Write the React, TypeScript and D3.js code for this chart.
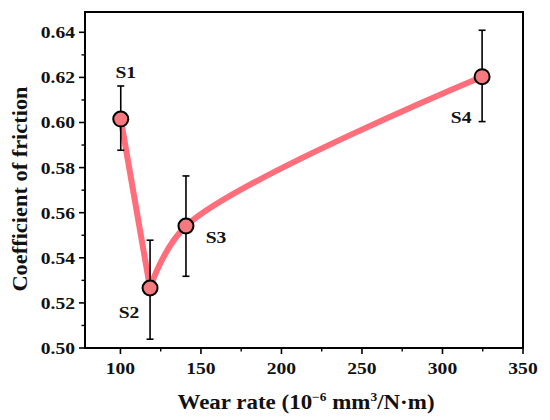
import React from "react";
import * as d3 from "d3";

const samples = ["S1", "S2", "S3", "S4"];
const wearRate = [100.2, 118.4, 140.7, 324.6];
const cof = [0.6015, 0.5266, 0.5541, 0.6203];
const errLow = [0.5877, 0.5039, 0.5318, 0.6004];
const errHigh = [0.6162, 0.5478, 0.5763, 0.6409];
const xTicks = [100, 150, 200, 250, 300, 350];
const xMinor = [125, 175, 225, 275, 325];
const yTicks = [0.5, 0.52, 0.54, 0.56, 0.58, 0.6, 0.62, 0.64];
const yMinor = [0.51, 0.53, 0.55, 0.57, 0.59, 0.61, 0.63];
// label offsets (dx, dy) relative to point
const labelOffsets: [number, number][] = [
  [5, -41],
  [-21, 30],
  [30, 17],
  [-21, 46],
];

const W = 550;
const H = 420;
const L = 85, R = 523, T = 12, B = 348;
const FONT = "Liberation Serif";
const SX = 1.12;

export default function App() {
  const x = d3.scaleLinear().domain([78, 350]).range([L, R]);
  const y = d3.scaleLinear().domain([0.5, 0.649]).range([B, T]);
  const pts = samples.map((s, i) => ({ s, x: wearRate[i], y: cof[i], lo: errLow[i], hi: errHigh[i] }));
  const line = d3
    .line<{ x: number; y: number }>()
    .x((d) => x(d.x))
    .y((d) => y(d.y));
  const pathA = line.curve(d3.curveLinear)(pts.slice(0, 2)) || "";
  const pathB = line.curve(d3.curveCatmullRom.alpha(0.5))(pts.slice(1)) || "";

  const txt = (
    key: string,
    tx: number,
    ty: number,
    content: React.ReactNode,
    size: number,
    anchor: string,
    rotate = 0
  ) => (
    <text
      key={key}
      transform={`translate(${tx},${ty}) rotate(${rotate}) scale(${SX},1)`}
      fontFamily={FONT}
      fontWeight="bold"
      fontSize={size}
      textAnchor={anchor as any}
      fill="#111"
    >
      {content}
    </text>
  );

  return (
    <svg width={W} height={H} style={{ position: "absolute", left: 0, top: 0, background: "#fff" }}>
      <rect x={0} y={0} width={W} height={H} fill="#fff" />
      {/* ticks */}
      {xTicks.map((t) => (
        <line key={"xt" + t} x1={x(t)} x2={x(t)} y1={B} y2={B + 6} stroke="#000" strokeWidth={1.6} />
      ))}
      {xMinor.map((t) => (
        <line key={"xm" + t} x1={x(t)} x2={x(t)} y1={B} y2={B + 3.5} stroke="#000" strokeWidth={1.4} />
      ))}
      {yTicks.map((t) => (
        <line key={"yt" + t} x1={L - 6} x2={L} y1={y(t)} y2={y(t)} stroke="#000" strokeWidth={1.6} />
      ))}
      {yMinor.map((t) => (
        <line key={"ym" + t} x1={L - 3.5} x2={L} y1={y(t)} y2={y(t)} stroke="#000" strokeWidth={1.4} />
      ))}
      {/* tick labels */}
      {xTicks.map((t) => txt("xl" + t, x(t), B + 26, String(t), 17.5, "middle"))}
      {yTicks.map((t) => txt("yl" + t, L - 10, y(t) + 6, t.toFixed(2), 17.5, "end"))}
      {/* frame */}
      <rect x={L} y={T} width={R - L} height={B - T} fill="none" stroke="#000" strokeWidth={2} />
      {/* line */}
      <path d={pathA} fill="none" stroke="#FF6E7A" strokeWidth={6} strokeLinejoin="round" />
      <path d={pathB} fill="none" stroke="#FF6E7A" strokeWidth={6} strokeLinejoin="round" />
      {/* error bars */}
      {pts.map((p, i) => (
        <g key={"e" + i} stroke="#000" strokeWidth={1.6}>
          <line x1={x(p.x)} x2={x(p.x)} y1={y(p.lo)} y2={y(p.hi)} />
          <line x1={x(p.x) - 3.5} x2={x(p.x) + 3.5} y1={y(p.lo)} y2={y(p.lo)} />
          <line x1={x(p.x) - 3.5} x2={x(p.x) + 3.5} y1={y(p.hi)} y2={y(p.hi)} />
        </g>
      ))}
      {/* markers */}
      {pts.map((p, i) => (
        <circle key={"c" + i} cx={x(p.x)} cy={y(p.y)} r={7.5} fill="#F47A80" stroke="#000" strokeWidth={2} />
      ))}
      {/* sample labels */}
      {pts.map((p, i) =>
        txt("sl" + i, x(p.x) + labelOffsets[i][0], y(p.y) + labelOffsets[i][1], p.s, 17.5, "middle")
      )}
      {/* axis titles */}
      {txt(
        "xtitle",
        306,
        409,
        <>
          {"Wear rate (10"}
          <tspan fontSize={12} dy={-8}>{"−6"}</tspan>
          <tspan dy={8}>{" mm"}</tspan>
          <tspan fontSize={12} dy={-8}>{"3"}</tspan>
          <tspan dy={8}>{"/N·m)"}</tspan>
        </>,
        20.5,
        "middle"
      )}
      {txt("ytitle", 27, 189, "Coefficient of friction", 20, "middle", -90)}
    </svg>
  );
}
